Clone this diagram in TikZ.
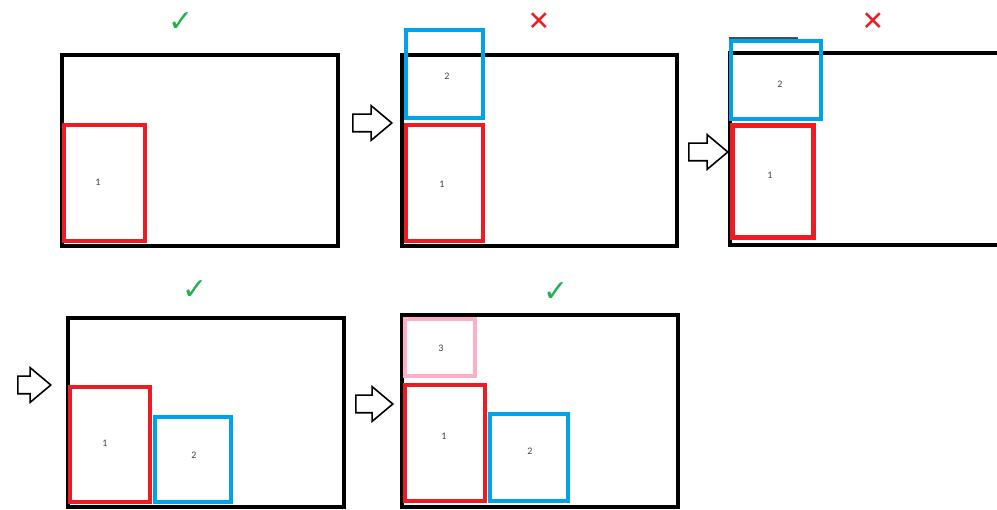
\documentclass[tikz,border=0pt]{standalone}
\usepackage{fontspec}
\setmainfont{Carlito}
\newfontfamily\symfont{DejaVu Sans}
\usetikzlibrary{shapes.arrows}

\begin{document}
\begin{tikzpicture}[
                    x=1pt, y=-1pt,
                    frame/.style = {draw=black, line width=3.6pt},
                    item/.style = {line width=3.6pt},
                    num/.style = {font=\fontsize{10}{12}\selectfont, text=black!75, inner sep=0pt},
                    ok/.style = {font=\symfont\fontsize{30}{32}\selectfont, text=markOk, inner sep=0pt},
                    bad/.style = {font=\symfont\fontsize{27}{29}\selectfont, text=markBad, inner sep=0pt},
                    step arrow/.style = {
                        single arrow, draw=black, line width=1.6pt, inner xsep=0pt, inner ysep=8pt,
                        minimum height=39pt, single arrow head extend=8.5pt, single arrow tip angle=80,
                        shape border rotate=0, anchor=tail
                    }
                ]
                    % Colours of the pieces
                    \definecolor{pieceRed}{HTML}{ED1C24}
                    \definecolor{pieceBlue}{HTML}{00A2E8}
                    \definecolor{piecePink}{HTML}{FFAEC9}
                    \definecolor{markOk}{HTML}{22B14C}
                    \definecolor{markBad}{HTML}{ED1C24}

                    \useasboundingbox (0,0) rectangle (997,510);

                    % Step 1
                    \draw[frame] (62,55) rectangle (338,246);
                    \draw[item, pieceRed] (64,125) rectangle (145,241);
                    \node[num] (oneA) at (98,182) {1};
                    \node[ok] (markA) at (181,22) {✓};

                    % Step 2
                    \draw[frame] (402,55) rectangle (677,246);
                    \draw[item, pieceBlue] (406,30) rectangle (483,118);
                    \draw[item, pieceRed] (406,125) rectangle (483,241);
                    \node[num] (twoB) at (447,76) {2};
                    \node[num] (oneB) at (442,184) {1};
                    \node[bad] (markB) at (539,22) {✕};

                    % Step 3
                    \draw[frame] (997,53) -- (730,53) -- (730,245) -- (997,245);
                    \draw[black!70, line width=1.2pt] (729,38) -- (798,38);
                    \draw[item, pieceBlue] (731,41) rectangle (821,119);
                    \draw[pieceRed, line width=5pt] (732,126) rectangle (813,238);
                    \node[num] (twoC) at (780,84) {2};
                    \node[num] (oneC) at (770,175) {1};
                    \node[bad] (markC) at (873,22) {✕};

                    % Step 4
                    \draw[frame] (68,318) rectangle (344,507);
                    \draw[item, pieceRed] (70,387) rectangle (150,502);
                    \draw[item, pieceBlue] (155,417) rectangle (231,502);
                    \node[num] (oneD) at (105,443) {1};
                    \node[num] (twoD) at (194,455) {2};
                    \node[ok] (markD) at (195,290) {✓};

                    % Step 5
                    \draw[frame] (402,315) rectangle (678,507);
                    \draw[item, piecePink] (405,319) rectangle (475,376);
                    \draw[item, pieceRed] (405,385) rectangle (485,501);
                    \draw[item, pieceBlue] (490,414) rectangle (568,501);
                    \node[num] (threeE) at (441,348) {3};
                    \node[num] (oneE) at (444,436) {1};
                    \node[num] (twoE) at (530,451) {2};
                    \node[ok] (markE) at (556,292) {✓};

                    % Arrows between the steps
                    \node[step arrow] (arrowA) at (352,123) {};
                    \node[step arrow] (arrowB) at (688,152) {};
                    \node[step arrow, minimum height=33pt] (arrowC) at (17,385) {};
                    \node[step arrow, minimum height=37pt] (arrowD) at (355,404) {};
                \end{tikzpicture}
\end{document}
